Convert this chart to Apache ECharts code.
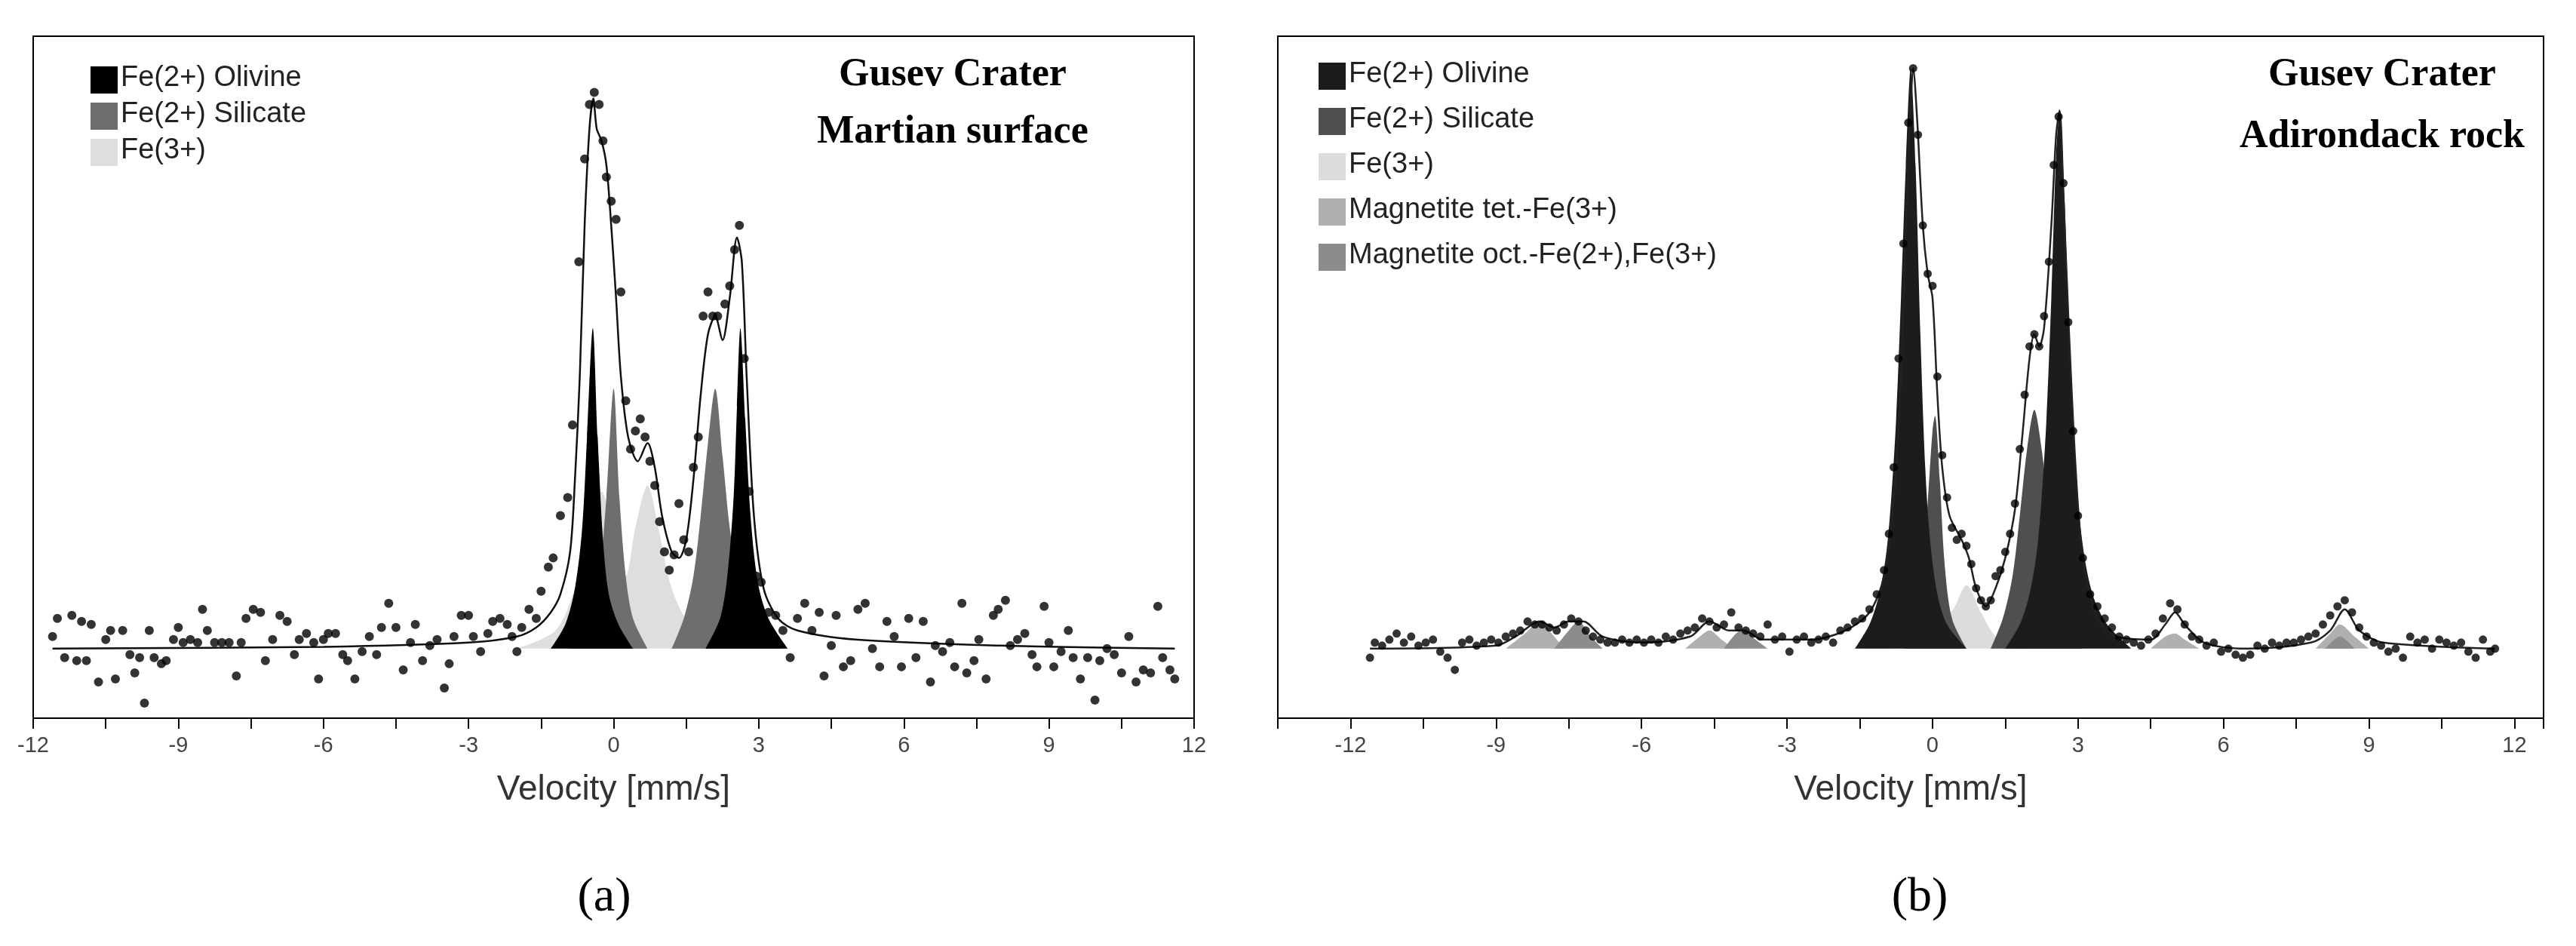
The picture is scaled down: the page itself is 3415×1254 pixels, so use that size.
<!DOCTYPE html>
<html><head><meta charset="utf-8">
<script src="https://cdn.jsdelivr.net/npm/echarts@6/dist/echarts.min.js"></script>
<style>html,body{margin:0;padding:0;background:#fff}#c{width:3415px;height:1254px}</style>
</head><body><div id="c"></div>
<script>
// ---------- Panel (a): Gusev Crater, Martian surface ----------
const dataA = [[-11.6,2],[-11.5,5],[-11.35,-1.5],[-11.2,5.5],[-11.1,-2],[-11.0,4.5],[-10.9,-2],[-10.8,4],[-10.65,-5.5],[-10.5,1.5],[-10.4,3],[-10.3,-5],[-10.15,3],[-10.0,-1],[-9.9,-4],[-9.8,-1.5],[-9.7,-9],[-9.6,3],[-9.5,-1.5],[-9.35,-2.5],[-9.25,-2],[-9.1,1.5],[-9.0,3.5],[-8.9,1],[-8.75,1.5],[-8.6,1],[-8.5,6.5],[-8.4,3],[-8.25,1],[-8.1,1],[-7.95,1],[-7.8,-4.5],[-7.7,1],[-7.6,5],[-7.45,6.5],[-7.3,6],[-7.2,-2],[-7.05,1.5],[-6.9,5.5],[-6.75,4.5],[-6.6,-1],[-6.5,1.5],[-6.35,2.5],[-6.2,1],[-6.1,-5],[-6.0,1.5],[-5.9,2.5],[-5.75,2.5],[-5.6,-1],[-5.5,-2],[-5.35,-5],[-5.2,-0.5],[-5.05,2],[-4.9,-1],[-4.8,3.5],[-4.65,7.5],[-4.5,3.5],[-4.35,-3.5],[-4.2,1],[-4.1,4],[-3.95,-2],[-3.8,0.5],[-3.65,1.5],[-3.5,-6.5],[-3.4,-2.5],[-3.3,2],[-3.15,5.5],[-3.0,5.5],[-2.9,2],[-2.75,-0.5],[-2.6,2.5],[-2.5,4.5],[-2.35,5],[-2.2,4],[-2.1,2],[-2.0,-0.5],[-1.9,3.5],[-1.75,6.5],[-1.6,5],[-1.5,9.5],[-1.35,13.5],[-1.25,15],[-1.1,22],[-0.95,25],[-0.85,37],[-0.72,64],[-0.6,81],[-0.5,90],[-0.4,92],[-0.3,90],[-0.22,84],[-0.15,78],[-0.05,74],[0.05,71],[0.15,59],[0.25,41],[0.35,33],[0.45,36],[0.55,38],[0.65,35],[0.75,31],[0.85,27],[0.95,21],[1.05,16],[1.15,13],[1.25,15.5],[1.35,24],[1.45,18],[1.55,16],[1.65,30],[1.75,35],[1.85,55],[1.95,59],[2.05,55],[2.15,55],[2.3,57],[2.4,60],[2.5,66],[2.6,70],[2.7,48],[2.8,26],[2.95,12],[3.05,11],[3.2,6],[3.35,5.5],[3.5,3],[3.65,-1.5],[3.8,5],[3.95,7.5],[4.1,3],[4.25,6],[4.35,-4.5],[4.5,0.5],[4.6,5.5],[4.75,-3],[4.9,-2],[5.05,6.5],[5.2,7.5],[5.35,0],[5.5,-3],[5.65,4.5],[5.8,2],[5.95,-3],[6.1,5],[6.25,-1.5],[6.4,4.5],[6.55,-5.5],[6.65,0.5],[6.8,-0.5],[6.95,1],[7.05,-3],[7.2,7.5],[7.3,-4],[7.45,-2],[7.55,1.5],[7.7,-5],[7.85,5.5],[7.95,6.5],[8.1,8],[8.2,0.5],[8.35,1.5],[8.5,2.5],[8.65,-1],[8.75,-3],[8.9,7],[9.0,1],[9.1,-3],[9.25,-0.5],[9.4,3],[9.5,-1.5],[9.65,-5],[9.8,-1.5],[9.95,-8.5],[10.05,-2],[10.2,0],[10.35,-1],[10.5,-4],[10.65,2],[10.8,-5.5],[10.95,-3.5],[11.1,-4],[11.25,7],[11.35,-1.5],[11.5,-3.5],[11.6,-5]];
const fitA = [[-11.6,0],[-6,0.3],[-3,1],[-2,2],[-1.6,3.5],[-1.3,6],[-1.1,9],[-0.9,16],[-0.8,28],[-0.7,45],[-0.6,70],[-0.5,86],[-0.42,91],[-0.35,86],[-0.25,84],[-0.15,80],[-0.05,70],[0.05,58],[0.15,45],[0.3,35],[0.5,31],[0.7,34],[0.85,30],[1.0,22],[1.2,16],[1.35,15],[1.5,18],[1.65,28],[1.8,42],[1.95,52],[2.1,55],[2.25,51],[2.4,58],[2.55,68],[2.65,64],[2.75,45],[2.9,22],[3.1,10],[3.4,5],[3.8,3],[5,1.5],[8,0.5],[11.6,0]];
const olivineA = [[-1.3,0],[-1.0,4],[-0.8,10],[-0.65,20],[-0.55,35],[-0.43,53],[-0.33,35],[-0.22,18],[-0.1,9],[0.1,4],[0.4,0],null,[1.9,0],[2.2,5],[2.35,12],[2.48,25],[2.55,40],[2.62,53],[2.72,38],[2.83,22],[2.98,11],[3.2,5],[3.6,0]];
const silicateA = [[-0.9,0],[-0.5,5],[-0.3,12],[-0.15,25],[0,43],[0.12,25],[0.25,12],[0.4,5],[0.7,0],null,[1.2,0],[1.45,5],[1.65,12],[1.8,22],[1.95,34],[2.1,43],[2.25,32],[2.4,20],[2.6,10],[2.9,4],[3.5,0]];
const fe3A = [[-2,0],[-1.2,3],[-0.8,10],[-0.5,19],[-0.25,26],[0.05,17],[0.25,12],[0.45,20],[0.7,27],[0.95,19],[1.2,10],[1.6,4],[2.5,1],[3.5,0]];

// ---------- Panel (b): Gusev Crater, Adirondack rock ----------
const dataB = [[-11.6,-1.5],[-11.5,1],[-11.35,0.5],[-11.2,1.5],[-11.05,2.5],[-10.9,1],[-10.75,2],[-10.6,0.5],[-10.45,1],[-10.3,1.5],[-10.15,-0.5],[-10.0,-1.5],[-9.85,-3.5],[-9.7,1],[-9.55,1.5],[-9.4,0.5],[-9.25,1],[-9.1,1.5],[-8.95,1],[-8.8,2],[-8.65,2.5],[-8.5,3],[-8.35,4.5],[-8.2,4],[-8.05,4],[-7.9,3.5],[-7.75,3],[-7.6,4],[-7.45,5],[-7.3,4.5],[-7.15,3],[-7.0,2],[-6.85,1.5],[-6.7,1],[-6.55,1],[-6.4,1.5],[-6.25,1],[-6.1,1.5],[-5.95,1],[-5.8,1.5],[-5.65,1],[-5.5,2],[-5.35,1.5],[-5.2,2.5],[-5.05,3],[-4.9,3.5],[-4.75,5],[-4.6,4.5],[-4.45,3.5],[-4.3,4],[-4.15,6],[-4.0,3.5],[-3.85,3],[-3.7,2.5],[-3.55,2],[-3.4,4],[-3.25,1.5],[-3.1,2],[-2.95,-0.5],[-2.8,1.5],[-2.65,2],[-2.5,1],[-2.35,1.5],[-2.2,2],[-2.05,1],[-1.9,3],[-1.75,3.5],[-1.6,4.5],[-1.45,5],[-1.3,6.5],[-1.15,9],[-1.0,13],[-0.9,19],[-0.8,30],[-0.7,48],[-0.6,67],[-0.5,87],[-0.4,96],[-0.3,85],[-0.2,70],[-0.1,62],[0.0,60],[0.1,45],[0.2,32],[0.3,25],[0.4,20],[0.5,18],[0.6,19],[0.7,17],[0.8,14],[0.9,10],[1.0,8],[1.1,7],[1.2,8],[1.3,12],[1.4,13],[1.5,16],[1.6,19],[1.7,24],[1.8,33],[1.9,42],[2.0,50],[2.1,52],[2.2,50],[2.3,55],[2.4,64],[2.5,80],[2.6,88],[2.7,77],[2.8,54],[2.9,36],[3.0,22],[3.1,15],[3.25,9],[3.4,7],[3.55,5],[3.7,3.5],[3.85,2],[4.0,1.5],[4.15,1],[4.3,0.5],[4.45,1.5],[4.6,2.5],[4.75,5],[4.9,7.5],[5.05,6.5],[5.2,4],[5.35,2],[5.5,1.5],[5.65,0.5],[5.8,1],[5.95,-0.5],[6.1,0],[6.25,-1],[6.4,-1.5],[6.55,-1],[6.7,0.5],[6.85,0],[7.0,1],[7.15,0.5],[7.3,1],[7.45,1],[7.6,1.5],[7.75,2],[7.9,2.5],[8.05,4],[8.2,5.5],[8.35,7],[8.5,8],[8.65,6],[8.8,3.5],[8.95,2],[9.1,1],[9.25,0.5],[9.4,-0.5],[9.55,0],[9.7,-1.5],[9.85,2],[10.0,1],[10.15,1.5],[10.3,0],[10.45,1.5],[10.6,1],[10.75,0.5],[10.9,1],[11.05,-0.5],[11.2,-1.5],[11.35,1.5],[11.5,-0.5],[11.6,0]];
const fitB = [[-11.6,0],[-9,0.5],[-8.6,2],[-8.1,4.5],[-7.8,3.5],[-7.5,4.5],[-7.2,4.5],[-6.8,2],[-6,1],[-5,2],[-4.6,4.5],[-4.2,3],[-3.9,3],[-3.5,1.5],[-2.5,1.5],[-1.8,3],[-1.3,6],[-1.0,12],[-0.8,25],[-0.65,45],[-0.55,70],[-0.45,90],[-0.4,96],[-0.32,88],[-0.2,70],[-0.1,62],[0,58],[0.1,42],[0.2,30],[0.35,22],[0.6,18],[0.75,15],[0.9,10],[1.1,7],[1.3,10],[1.5,15],[1.7,23],[1.85,35],[2.0,48],[2.1,52],[2.2,50],[2.3,53],[2.45,70],[2.55,85],[2.62,89],[2.7,75],[2.8,55],[2.95,30],[3.1,15],[3.4,5],[3.8,2],[4.5,1.5],[4.8,4],[5.0,6],[5.2,4],[5.6,1],[6.5,0],[7.8,1],[8.2,3],[8.5,6.5],[8.8,3],[9.3,1],[11.6,0]];
const olivineB = [[-1.6,0],[-1.3,4],[-1.1,9],[-0.95,16],[-0.85,25],[-0.75,38],[-0.65,58],[-0.55,80],[-0.45,96],[-0.35,80],[-0.25,52],[-0.15,30],[-0.05,18],[0.1,9],[0.3,4],[0.7,0],null,[1.5,0],[1.8,4],[2.0,9],[2.15,16],[2.25,25],[2.35,38],[2.45,58],[2.55,82],[2.62,88.5],[2.72,75],[2.82,50],[2.95,30],[3.1,17],[3.3,9],[3.6,4],[4.1,0]];
const silicateB = [[-0.6,0],[-0.35,5],[-0.2,12],[-0.1,24],[0,36],[0.05,38.5],[0.15,28],[0.25,14],[0.4,5],[0.7,0],null,[1.2,0],[1.45,5],[1.65,12],[1.8,22],[1.95,33],[2.1,39.5],[2.25,33],[2.4,22],[2.55,12],[2.75,5],[3.1,0]];
const fe3B = [[-1.5,0],[-1.1,3],[-0.7,7],[-0.4,10],[-0.15,10.5],[0.15,6],[0.35,6],[0.7,10.5],[1.0,6],[1.3,2],[1.7,0]];
const tetB = [[-8.8,0],[-8.4,2.5],[-8.1,4.5],[-7.8,2],[-7.6,0],null,[-5.1,0],[-4.8,2],[-4.6,3],[-4.35,1.5],[-4.1,0],null,[4.5,0],[4.8,2],[5.0,2.5],[5.2,1.5],[5.5,0],null,[7.9,0],[8.2,2.5],[8.4,4],[8.7,2],[9.0,0]];
const octB = [[-7.8,0],[-7.5,3],[-7.3,4.5],[-7.05,2],[-6.8,0],null,[-4.3,0],[-4.05,2.5],[-3.9,3],[-3.65,1.5],[-3.4,0],null,[-1.4,0],[-1.1,1.5],[-0.8,0],null,[1.4,0],[1.7,1.5],[2.0,0],null,[8.1,0],[8.4,2],[8.7,0]];

const legendA = ['Fe(2+) Olivine','Fe(2+) Silicate','Fe(3+)'];
const legendB = ['Fe(2+) Olivine','Fe(2+) Silicate','Fe(3+)','Magnetite tet.-Fe(3+)','Magnetite oct.-Fe(2+),Fe(3+)'];
const titleA = ['Gusev Crater','Martian surface'];
const titleB = ['Gusev Crater','Adirondack rock'];
const xTicks = [-12,-9,-6,-3,0,3,6,9,12];

const colA = ['#000000','#6e6e6e','#dedede'];
const colB = ['#1c1c1c','#4f4f4f','#dcdcdc','#b0b0b0','#8c8c8c'];

function area(name, data, color, idx){
  return {type:'line', name, data, xAxisIndex:idx, yAxisIndex:idx, smooth:0.3, showSymbol:false, symbol:'none',
    lineStyle:{width:0}, areaStyle:{color, opacity:1}, connectNulls:false, z:2, silent:true};
}
function xAxis(idx, min, max){
  return {type:'value', gridIndex:idx, min, max, interval:1.5,
    axisLine:{show:true, onZero:false, lineStyle:{color:'#000', width:2}},
    axisTick:{show:true, inside:false, length:14, lineStyle:{color:'#000', width:2}},
    splitLine:{show:false},
    axisLabel:{fontFamily:'Liberation Sans, Arial', fontSize:29, color:'#444', margin:22,
      formatter:v=>{const r=Math.round(v); return (Math.abs(v-r)<1e-6 && r%3===0 && xTicks.includes(r)) ? String(r) : '';}},
    name:'Velocity [mm/s]', nameLocation:'middle', nameGap:72,
    nameTextStyle:{fontFamily:'Liberation Sans, Arial', fontSize:46, color:'#333'}};
}
function yAxis(idx){
  return {type:'value', gridIndex:idx, min:-11.5, max:101.3, show:false, splitLine:{show:false}};
}
function legendGraphic(items, cols, x, y, dy){
  const g=[];
  items.forEach((t,i)=>{
    g.push({type:'rect', left:x, top:y+i*dy-17, shape:{width:36,height:36}, style:{fill:cols[i]}});
    g.push({type:'text', left:x+40, top:y+i*dy-20, style:{text:t, font:'38px "Liberation Sans", Arial', fill:'#222'}});
  });
  return g;
}
function titleGraphic(lines, cx, y0, dy){
  return lines.map((t,i)=>({type:'text', x:cx, y:y0+i*dy, style:{text:t, font:'bold 52px "Liberation Serif", "Times New Roman"', fill:'#000', align:'center', verticalAlign:'middle'}}));
}

const chart = echarts.init(document.getElementById('c'));
chart.setOption({
  backgroundColor:'#fff', animation:false,
  grid:[
    {left:44, right:1832, top:48, bottom:302, show:true, borderColor:'#000', borderWidth:2, backgroundColor:'transparent'},
    {left:1694, right:43, top:48, bottom:302, show:true, borderColor:'#000', borderWidth:2, backgroundColor:'transparent'}
  ],
  xAxis:[xAxis(0,-12,12), xAxis(1,-13.5,12.6)],
  yAxis:[yAxis(0), yAxis(1)],
  series:[
    area('Fe(3+)', fe3A, colA[2], 0),
    area('Fe(2+) Silicate', silicateA, colA[1], 0),
    area('Fe(2+) Olivine', olivineA, colA[0], 0),
    {type:'line', data:fitA, xAxisIndex:0, yAxisIndex:0, smooth:0.3, symbol:'none', lineStyle:{color:'#111', width:2.5}, z:3},
    {type:'scatter', data:dataA, xAxisIndex:0, yAxisIndex:0, symbol:'circle', symbolSize:12, itemStyle:{color:'#000'}, z:4},
    area('Magnetite tet.-Fe(3+)', tetB, colB[3], 1),
    area('Magnetite oct.-Fe(2+),Fe(3+)', octB, colB[4], 1),
    area('Fe(3+)', fe3B, colB[2], 1),
    area('Fe(2+) Silicate', silicateB, colB[1], 1),
    area('Fe(2+) Olivine', olivineB, colB[0], 1),
    {type:'line', data:fitB, xAxisIndex:1, yAxisIndex:1, smooth:0.3, symbol:'none', lineStyle:{color:'#222', width:2.5}, z:3},
    {type:'scatter', data:dataB, xAxisIndex:1, yAxisIndex:1, symbol:'circle', symbolSize:11, itemStyle:{color:'#000'}, z:4}
  ],
  graphic:[
    ...legendGraphic(legendA, colA, 120, 105, 48),
    ...legendGraphic(legendB, colB, 1748, 100, 60),
    ...titleGraphic(titleA, 1263, 100, 76),
    ...titleGraphic(titleB, 3158, 100, 82),
    {type:'text', x:801, y:1190, style:{text:'(a)', font:'64px "Liberation Serif", "Times New Roman"', fill:'#000', align:'center', verticalAlign:'middle'}},
    {type:'text', x:2545, y:1190, style:{text:'(b)', font:'64px "Liberation Serif", "Times New Roman"', fill:'#000', align:'center', verticalAlign:'middle'}}
  ]
});
</script></body></html>
